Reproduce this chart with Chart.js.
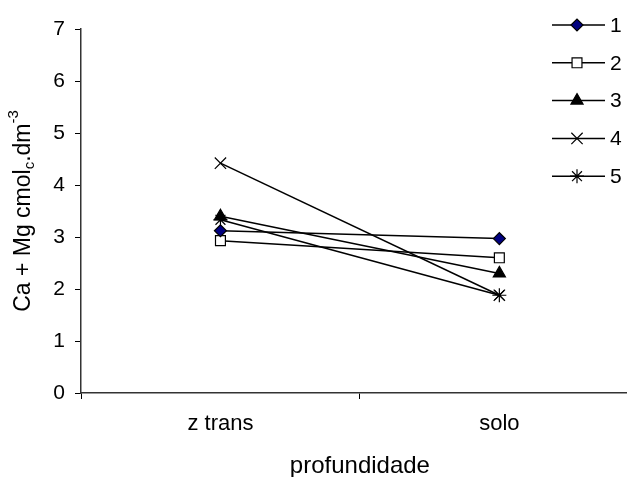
<!DOCTYPE html>
<html>
<head>
<meta charset="utf-8">
<title>Ca + Mg</title>
<script src="https://cdn.jsdelivr.net/npm/chart.js@4.4.1/dist/chart.umd.min.js"></script>
<style>
  html, body { margin: 0; padding: 0; background: #fff; overflow: hidden; }
  #wrap { width: 627px; height: 477px; overflow: hidden; }
</style>
</head>
<body>
<div id="wrap">
  <canvas id="grafico" width="648" height="477"></canvas>
</div>
<script>
// dados
var categorias = ['z trans', 'solo'];
var nomesSeries = ['1', '2', '3', '4', '5'];
var serie1 = [3.12, 2.97];
var serie2 = [2.93, 2.60];
var serie3 = [3.40, 2.30];
var serie4 = [4.42, 1.88];
var serie5 = [3.33, 1.88];
var ticksY = [0, 1, 2, 3, 4, 5, 6, 7];

var fonte = 'Arial, "Liberation Sans", Helvetica, sans-serif';

// estilo de cada serie (marcador do excel)
var estilos = [
  { pointStyle: 'rectRot', radius: 6, fill: '#000080' },
  { pointStyle: 'rect', radius: 7, fill: '#ffffff' },
  { pointStyle: 'triangle', radius: 7, fill: '#000000' },
  { pointStyle: 'crossRot', radius: 8, fill: '#000000' },
  { pointStyle: 'star', radius: 7, fill: '#000000' }
];

var valores = [serie1, serie2, serie3, serie4, serie5];

var datasets = valores.map(function (v, i) {
  return {
    label: nomesSeries[i],
    data: v,
    borderColor: '#000000',
    borderWidth: 1.5,
    pointStyle: estilos[i].pointStyle,
    pointRadius: estilos[i].radius,
    pointHoverRadius: estilos[i].radius,
    pointBackgroundColor: estilos[i].fill,
    pointBorderColor: '#000000',
    pointBorderWidth: 1.2,
    fill: false,
    tension: 0
  };
});

// legenda desenhada a mao (linha + marcador + numero)
var legendaPlugin = {
  id: 'legendaExcel',
  afterDraw: function (chart) {
    var ctx = chart.ctx;
    ctx.save();
    chart.data.datasets.forEach(function (ds, i) {
      var y = 25 + i * 37.8;
      ctx.strokeStyle = '#000000';
      ctx.lineWidth = 1.5;
      ctx.beginPath();
      ctx.moveTo(552, y);
      ctx.lineTo(605, y);
      ctx.stroke();
      ctx.fillStyle = ds.pointBackgroundColor;
      ctx.strokeStyle = ds.pointBorderColor;
      ctx.lineWidth = ds.pointBorderWidth;
      Chart.helpers.drawPoint(ctx, {
        pointStyle: ds.pointStyle,
        radius: ds.pointRadius,
        rotation: 0,
        borderWidth: ds.pointBorderWidth
      }, 577, y);
      ctx.fillStyle = '#000000';
      ctx.font = '21px ' + fonte;
      ctx.textAlign = 'left';
      ctx.textBaseline = 'middle';
      ctx.fillText(ds.label, 610, y + 1);
    });
    ctx.restore();
  }
};

// titulo do eixo y com subscrito e sobrescrito
var tituloYPlugin = {
  id: 'tituloY',
  afterDraw: function (chart) {
    var ctx = chart.ctx;
    var partes = [
      { t: 'Ca + Mg cmol', tam: 23, dy: 0 },
      { t: 'c', tam: 15, dy: 6 },
      { t: '.dm', tam: 23, dy: 0 },
      { t: '-3', tam: 15, dy: -10 }
    ];
    ctx.save();
    var total = 0;
    partes.forEach(function (p) {
      ctx.font = p.tam + 'px ' + fonte;
      p.w = ctx.measureText(p.t).width;
      total += p.w;
    });
    ctx.translate(24, 211);
    ctx.rotate(-Math.PI / 2);
    ctx.fillStyle = '#000000';
    ctx.textBaseline = 'middle';
    ctx.textAlign = 'left';
    var x = -total / 2;
    partes.forEach(function (p) {
      ctx.font = p.tam + 'px ' + fonte;
      ctx.fillText(p.t, x, p.dy);
      x += p.w;
    });
    ctx.restore();
  }
};

var ctx = document.getElementById('grafico').getContext('2d');
var grafico = new Chart(ctx, {
  type: 'line',
  data: {
    labels: categorias,
    datasets: datasets
  },
  options: {
    responsive: false,
    animation: false,
    devicePixelRatio: 1,
    layout: { padding: { top: 29, right: 3, left: 0, bottom: 0 } },
    plugins: {
      legend: { display: false },
      tooltip: { enabled: false }
    },
    scales: {
      x: {
        type: 'category',
        offset: true,
        grid: {
          offset: true,
          drawOnChartArea: false,
          drawTicks: true,
          tickLength: 6,
          color: '#000000'
        },
        border: { color: '#333333', width: 1.5 },
        ticks: {
          color: '#000000',
          font: { family: fonte, size: 22 },
          padding: 12,
          maxRotation: 0
        },
        title: {
          display: true,
          text: 'profundidade',
          color: '#000000',
          font: { family: fonte, size: 24, lineHeight: 0.85 },
          padding: { top: 0, bottom: 0 }
        },
        afterFit: function (scale) { scale.height = 84; }
      },
      y: {
        min: 0,
        max: 7,
        afterBuildTicks: function (scale) {
          scale.ticks = ticksY.map(function (v) { return { value: v }; });
        },
        grid: {
          drawOnChartArea: false,
          drawTicks: true,
          tickLength: 6,
          color: '#000000'
        },
        border: { color: '#333333', width: 1.5 },
        ticks: {
          color: '#000000',
          font: { family: fonte, size: 21 },
          padding: 10
        },
        afterFit: function (scale) { scale.width = 81; }
      }
    }
  },
  plugins: [legendaPlugin, tituloYPlugin]
});
</script>
</body>
</html>
